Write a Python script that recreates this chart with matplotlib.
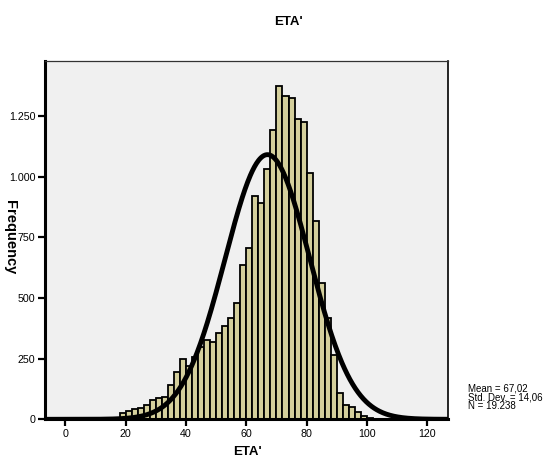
import numpy as np
import matplotlib
matplotlib.use("Agg")
import matplotlib.pyplot as plt
from matplotlib.ticker import FuncFormatter

plt.rcParams['font.family'] = ['Liberation Sans', 'DejaVu Sans']

# Histogram data (bin width 2, left edges)
bin_width = 2
bin_lefts = list(range(0, 110, 2))
counts = [1, 1, 1, 2, 2, 5, 4, 4, 7, 28,
          33, 42, 46, 57, 80, 86, 93, 142, 196, 249,
          220, 255, 300, 329, 318, 357, 386, 416, 478, 638,
          705, 921, 891, 1031, 1192, 1376, 1334, 1325, 1239, 1225,
          1015, 818, 563, 417, 267, 107, 57, 50, 30, 13,
          5, 3, 2, 1, 1]

mean_val = 67.02
sd_val = 14.06
n_val = 19238

x_ticks = [0, 20, 40, 60, 80, 100, 120]
y_ticks = [0, 250, 500, 750, 1000, 1250]

fig = plt.figure(figsize=(5.52, 4.62), dpi=100)
ax = fig.add_axes([45/552, 1-419.3/462, (448.3-45)/552, (419.3-61)/462])
ax.set_facecolor('#F0F0F0')

ax.bar(bin_lefts, counts, width=bin_width, align='edge',
       color='#D4CF9C', edgecolor='black', linewidth=1.3, zorder=2)

xs = np.linspace(-6.77, 127, 600)
ys = n_val * bin_width / (sd_val * np.sqrt(2*np.pi)) * np.exp(-0.5*((xs-mean_val)/sd_val)**2)
ax.plot(xs, ys, color='black', linewidth=3.5, zorder=3, solid_capstyle='butt')

ax.set_xlim(-6.77, 127)
ax.set_ylim(0, 1478)
ax.set_xticks(x_ticks)
ax.set_yticks(y_ticks)
ax.yaxis.set_major_formatter(FuncFormatter(lambda v, p: f"{int(v):,}".replace(",", ".")))
ax.tick_params(axis='both', direction='out', length=5, width=1.6, labelsize=7.7, pad=2)

for s in ['left', 'bottom']:
    ax.spines[s].set_linewidth(2.2)
ax.spines['top'].set_linewidth(0.9)
ax.spines['top'].set_color('#333333')
ax.spines['right'].set_linewidth(1.2)

fig.text(288/552, 1-22/462, "ETA'", ha='center', va='center', fontsize=9.5, fontweight='bold')
fig.text(247/552, 1-452/462, "ETA'", ha='center', va='center', fontsize=9.5, fontweight='bold')
fig.text(10/552, 1-237/462, "Frequency", ha='center', va='center', rotation=270,
         fontsize=10.5, fontweight='bold')

mean_txt = f"{mean_val:.2f}".replace('.', ',')
sd_txt = f"{sd_val:.2f}".replace('.', ',')
n_txt = f"{n_val:,}".replace(',', '.')
fig.text(468/552, 1-391.3/462, f"Mean = {mean_txt}", ha='left', va='baseline', fontsize=7.0)
fig.text(468/552, 1-400.2/462, f"Std. Dev. = {sd_txt}", ha='left', va='baseline', fontsize=7.0)
fig.text(468/552, 1-409.1/462, f"N = {n_txt}", ha='left', va='baseline', fontsize=7.0)

fig.savefig('out.png', dpi=100, facecolor='white')
